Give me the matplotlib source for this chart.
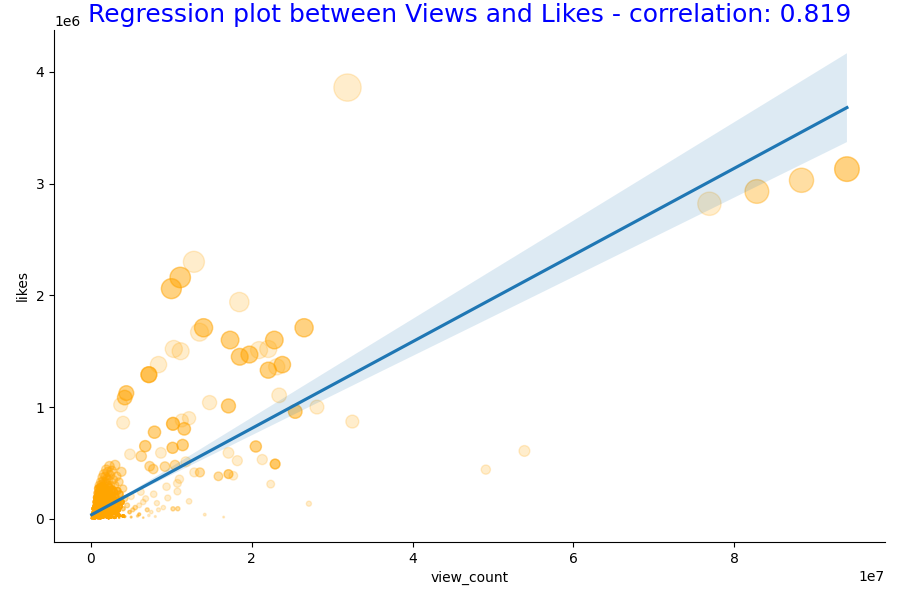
import matplotlib
matplotlib.use("Agg")
import matplotlib.pyplot as plt
import numpy as np
import seaborn as sns

# Trending videos: views in millions, likes in thousands, and how many days
# the video shows up at (about) that spot -- repeated rows stack into darker dots.
# -- the larger, separated videos
OUT_VIEWS = [31.9, 94.0, 88.35, 82.8, 76.9, 12.8, 11.1, 10.0, 18.45, 14.0, 13.5,
             17.3, 26.5, 10.3, 11.15, 18.5, 19.7, 20.9, 22.05, 22.8, 22.05, 23.1,
             23.8, 8.4, 7.2, 23.4, 25.4, 28.1, 32.5, 14.75, 17.1, 4.4, 4.2, 3.7,
             4.0, 10.2, 11.3, 11.6, 12.2, 7.9, 6.75, 8.7, 10.15, 11.4, 20.5, 17.1,
             18.2, 21.3, 22.9, 4.85, 6.25, 7.3, 7.75, 9.2, 10.45, 11.8, 12.85,
             13.55, 15.85, 17.1, 17.7, 22.35, 27.1, 14.15, 16.5, 9.4, 10.75, 11.0,
             10.75, 9.55, 12.2, 10.2, 10.8, 8.4, 53.9, 49.1]
OUT_LIKES = [3860, 3130, 3030, 2930, 2820, 2300, 2160, 2060, 1940, 1710, 1670,
             1600, 1710, 1520, 1500, 1450, 1470, 1510, 1520, 1600, 1330, 1360,
             1380, 1380, 1290, 1105, 960, 1000, 870, 1040, 1010, 1125, 1085, 1020,
             860, 850, 880, 805, 900, 775, 650, 590, 635, 660, 647, 590,
             520, 530, 490, 577, 560, 470, 445, 467, 480, 510, 415,
             415, 380, 400, 385, 310, 135, 37, 15, 287, 317, 354,
             244, 186, 156, 89, 90, 80, 607, 440]
OUT_DAYS = [1, 3, 2, 2, 1, 1, 3, 3, 1, 3, 1,
            3, 3, 1, 1, 3, 3, 1, 1, 3, 3, 1,
            3, 1, 5, 1, 3, 1, 1, 1, 3, 3, 3, 1,
            1, 4, 1, 3, 1, 3, 3, 1, 3, 3, 3, 1,
            1, 1, 4, 1, 2, 2, 2, 2, 2, 1, 1,
            2, 2, 3, 1, 1, 1, 1, 1, 1, 1, 1,
            1, 1, 1, 2, 2, 1, 1, 1]

# -- the dense group of small videos near the origin
CLU_VIEWS = [0.1, 0.2, 0.2, 0.3, 0.3, 0.4, 0.4, 0.4, 0.5, 0.5, 0.5, 0.6, 0.6, 0.6,
             0.7, 0.7, 0.7, 0.7, 0.8, 0.8, 0.8, 0.8, 0.9, 0.9, 0.9, 0.9, 0.9,
             1.0, 1.0, 1.0, 1.0, 1.0, 1.1, 1.1, 1.1, 1.1, 1.1, 1.2, 1.2, 1.2,
             1.2, 1.2, 1.3, 1.3, 1.3, 1.3, 1.4, 1.4, 1.4, 1.4, 1.4, 1.5, 1.5,
             1.5, 1.5, 1.6, 1.6, 1.6, 1.6, 1.7, 1.7, 1.7, 1.7, 1.8, 1.8, 1.8,
             1.8, 1.9, 1.9, 1.9, 1.9, 1.9, 2.0, 2.0, 2.0, 2.0, 2.1, 2.1, 2.1,
             2.1, 2.2, 2.2, 2.2, 2.2, 2.3, 2.3, 2.3, 2.3, 2.4, 2.4, 2.4, 2.5,
             2.5, 2.5, 2.6, 2.6, 2.6, 2.7, 2.7, 2.8, 2.8, 2.8, 2.9, 2.9, 3.0,
             3.0, 3.0, 3.1, 3.1, 3.2, 3.2, 3.3, 3.4, 3.4, 3.5, 3.6, 3.6, 3.8,
             3.8, 4.0, 4.0, 4.2, 4.5, 4.8, 5.0, 5.5, 6.0, 6.5, 7.0, 3.5, 4.2,
             5.0, 5.8, 6.5, 7.2, 8.0, 5.2, 6.0, 6.8, 7.5, 8.2, 9.0, 6.2, 7.8,
             2.5, 1.2, 0.6, 3.3, 2.9,
             1.5, 2.0, 2.5, 3.0, 3.5, 2.2, 1.8, 2.7, 3.2, 4.0, 1.0, 0.5, 0.3,
             0.8, 1.3]
CLU_LIKES = [5, 10, 30, 20, 50, 15, 60, 90, 25, 70, 110, 40, 100, 150,
             20, 80, 130, 190, 50, 110, 170, 230, 30, 90, 150, 210, 270,
             60, 120, 180, 240, 300, 20, 100, 160, 220, 280, 50, 140, 200,
             260, 330, 80, 170, 240, 310, 30, 120, 210, 290, 370, 60, 150,
             250, 340, 100, 190, 280, 400, 40, 140, 230, 330, 80, 180, 270,
             380, 20, 120, 220, 320, 440, 60, 160, 260, 360, 100, 200, 300,
             420, 40, 140, 240, 350, 80, 180, 280, 470, 120, 220, 390, 30,
             160, 300, 90, 200, 430, 130, 260, 50, 180, 350, 100, 240, 150,
             300, 480, 60, 200, 120, 380, 250, 80, 160, 330, 110, 220, 150,
             420, 90, 270, 180, 120, 60, 200, 100, 40, 150, 80, 10, 20,
             15, 25, 10, 30, 20, 80, 120, 180, 60, 140, 100, 240, 220,
             10, 5, 15, 40, 10,
             10, 15, 20, 10, 30, 5, 40, 60, 40, 25, 5, 3, 2,
             8, 12]
CLU_DAYS = [20, 20, 20, 20, 20, 20, 20, 20, 20, 20, 10, 20, 10, 10,
            20, 20, 10, 10, 20, 10, 10, 5, 20, 20, 10, 5, 5,
            20, 10, 10, 5, 2, 20, 10, 10, 5, 5, 20, 10, 5,
            5, 2, 20, 10, 5, 2, 20, 10, 5, 5, 2, 20, 10,
            5, 2, 10, 10, 5, 2, 20, 10, 5, 2, 20, 10, 5,
            2, 20, 10, 5, 2, 2, 20, 10, 5, 2, 10, 5, 2,
            2, 20, 10, 5, 2, 20, 10, 5, 2, 10, 5, 2, 20,
            10, 2, 20, 5, 2, 10, 5, 20, 10, 2, 10, 5, 10,
            2, 2, 20, 5, 10, 2, 5, 20, 10, 2, 10, 5, 10,
            2, 3, 2, 2, 2, 3, 1, 2, 3, 1, 2, 5, 5,
            3, 2, 2, 1, 1, 2, 1, 1, 1, 1, 1, 1, 1,
            30, 30, 30, 30, 30,
            30, 30, 30, 30, 30, 30, 30, 30, 30, 30, 30, 30, 30,
            30, 30]

views = np.repeat(np.array(OUT_VIEWS + CLU_VIEWS) * 1e6, OUT_DAYS + CLU_DAYS)
likes = np.repeat(np.array(OUT_LIKES + CLU_LIKES) * 1e3, OUT_DAYS + CLU_DAYS)

fig, ax = plt.subplots(figsize=(9, 6), dpi=100)
fig.subplots_adjust(left=0.06, right=0.983, bottom=0.097, top=0.95)

ax.scatter(views, likes, s=likes / 10000, color="orange", alpha=0.2)
sns.regplot(x=views, y=likes, scatter=False, ax=ax, seed=1)

ax.set_xlabel("view_count")
ax.set_ylabel("likes")
ax.set_title("Regression plot between Views and Likes - correlation: 0.819",
             color="blue", fontsize=18)
sns.despine(ax=ax)

fig.savefig("out.png")
